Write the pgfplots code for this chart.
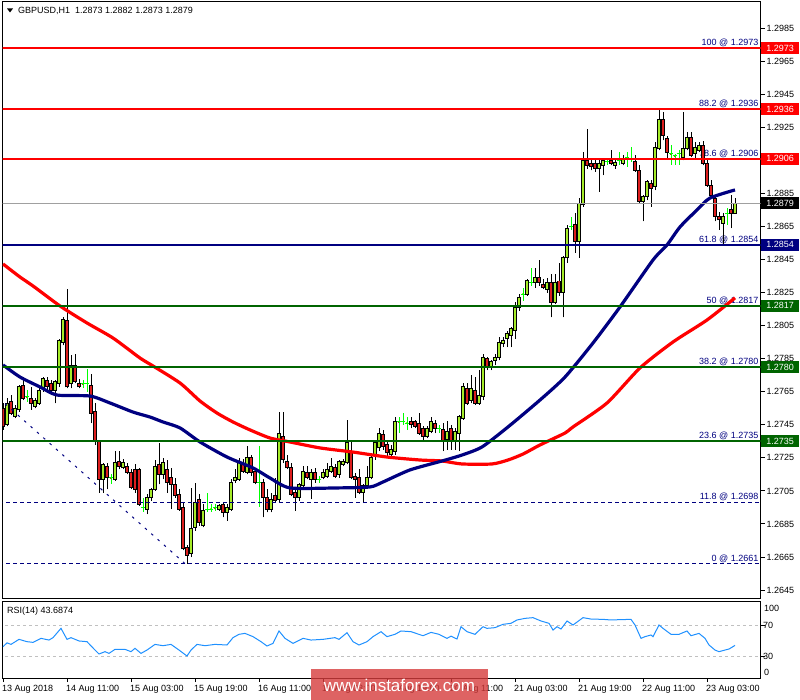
\documentclass[border=0pt]{standalone}
\usepackage{pgfplots}
\pgfplotsset{compat=1.18}
\usepackage{pgfplotstable}
\usepackage{fontspec}
\setmainfont{Liberation Sans}

\definecolor{mtred}{RGB}{255,0,0}
\definecolor{mtnavy}{RGB}{0,0,128}
\definecolor{mtgreen}{RGB}{0,100,0}
\definecolor{bull}{RGB}{165,235,40}
\definecolor{bear}{RGB}{220,30,30}
\definecolor{doji}{RGB}{0,255,0}
\definecolor{rsiblue}{RGB}{30,144,255}
\definecolor{levelgray}{RGB}{160,160,160}
\definecolor{rsigray}{RGB}{192,192,192}
\definecolor{wmred}{RGB}{214,60,60}
\newcommand{\fs}{\fontsize{9}{10}\selectfont}
% error-bar-only plots: no visible marker
\pgfplotsset{bar only/.style={only marks, mark=*, mark size=0pt, mark options={draw=none, fill=none}}}

% GBPUSD H1 candles: bar index, open, high, low, close
\pgfplotstableread{
i o h l c
0 1.2755 1.2758 1.2742 1.2744
1 1.2745 1.2761 1.2744 1.2758
2 1.2759 1.2763 1.2751 1.2752
3 1.2750 1.2757 1.2749 1.2755
4 1.2754 1.2769 1.2753 1.2768
5 1.2769 1.2774 1.2760 1.2761
6 1.2762 1.2766 1.2759 1.2761
7 1.2761 1.2768 1.2754 1.2758
8 1.2756 1.2761 1.2755 1.2760
9 1.2758 1.2768 1.2757 1.2766
10 1.2767 1.2774 1.2765 1.2773
11 1.2772 1.2774 1.2766 1.2768
12 1.2770 1.2772 1.2765 1.2766
13 1.2766 1.2772 1.2758 1.2771
14 1.2770 1.2797 1.2768 1.2796
15 1.2795 1.2810 1.2793 1.2809
16 1.2808 1.2827 1.2767 1.2768
17 1.2770 1.2787 1.2767 1.2781
18 1.2781 1.2788 1.2770 1.2771
19 1.2770 1.2773 1.2767 1.2768
20 1.2770 1.2772 1.2767 1.2769
21 1.2770 1.2779 1.2765 1.2770
22 1.2769 1.2776 1.2746 1.2752
23 1.2753 1.2758 1.2733 1.2735
24 1.2735 1.2736 1.2704 1.2712
25 1.2712 1.2722 1.2704 1.2721
26 1.2720 1.2722 1.2706 1.2713
27 1.2713 1.2715 1.2709 1.2712
28 1.2712 1.2729 1.2711 1.2722
29 1.2723 1.2729 1.2718 1.2720
30 1.2719 1.2724 1.2718 1.2722
31 1.2720 1.2722 1.2715 1.2716
32 1.2716 1.2718 1.2706 1.2707
33 1.2718 1.2721 1.2704 1.2706
34 1.2718 1.2719 1.2696 1.2697
35 1.2695 1.2701 1.2692 1.2695
36 1.2694 1.2703 1.2691 1.2701
37 1.2701 1.2707 1.2699 1.2706
38 1.2706 1.2724 1.2705 1.2720
39 1.2721 1.2734 1.2709 1.2715
40 1.2715 1.2725 1.2712 1.2722
41 1.2718 1.2724 1.2704 1.2710
42 1.2713 1.2719 1.2694 1.2709
43 1.2709 1.2713 1.2701 1.2702
44 1.2703 1.2706 1.2693 1.2694
45 1.2695 1.2698 1.2669 1.2670
46 1.2671 1.2672 1.2661 1.2666
47 1.2667 1.2707 1.2665 1.2682
48 1.2683 1.2710 1.2681 1.2698
49 1.2700 1.2703 1.2684 1.2686
50 1.2684 1.2697 1.2683 1.2693
51 1.2694 1.2704 1.2692 1.2694
52 1.2694 1.2697 1.2692 1.2695
53 1.2695 1.2697 1.2693 1.2694
54 1.2694 1.2697 1.2693 1.2696
55 1.2697 1.2698 1.2689 1.2692
56 1.2692 1.2697 1.2687 1.2695
57 1.2694 1.2712 1.2693 1.2710
58 1.2711 1.2718 1.2710 1.2713
59 1.2712 1.2725 1.2711 1.2722
60 1.2721 1.2724 1.2716 1.2717
61 1.2716 1.2732 1.2715 1.2725
62 1.2725 1.2727 1.2714 1.2716
63 1.2717 1.2719 1.2709 1.2710
64 1.2710 1.2732 1.2695 1.2710
65 1.2710 1.2712 1.2689 1.2701
66 1.2701 1.2706 1.2692 1.2694
67 1.2694 1.2704 1.2692 1.2700
68 1.2702 1.2713 1.2698 1.2699
69 1.2700 1.2753 1.2698 1.2740
70 1.2738 1.2753 1.2722 1.2724
71 1.2723 1.2727 1.2718 1.2719
72 1.2719 1.2722 1.2702 1.2703
73 1.2704 1.2706 1.2693 1.2701
74 1.2701 1.2710 1.2699 1.2709
75 1.2708 1.2720 1.2707 1.2717
76 1.2716 1.2720 1.2712 1.2713
77 1.2712 1.2718 1.2700 1.2716
78 1.2716 1.2719 1.2710 1.2712
79 1.2712 1.2714 1.2710 1.2712
80 1.2713 1.2718 1.2712 1.2716
81 1.2714 1.2722 1.2713 1.2718
82 1.2717 1.2725 1.2716 1.2720
83 1.2719 1.2721 1.2713 1.2714
84 1.2715 1.2724 1.2713 1.2723
85 1.2721 1.2724 1.2720 1.2723
86 1.2722 1.2748 1.2721 1.2734
87 1.2728 1.2736 1.2712 1.2713
88 1.2714 1.2716 1.2701 1.2712
89 1.2713 1.2718 1.2703 1.2704
90 1.2704 1.2709 1.2698 1.2708
91 1.2708 1.2720 1.2707 1.2713
92 1.2713 1.2726 1.2712 1.2725
93 1.2727 1.2736 1.2724 1.2734
94 1.2731 1.2743 1.2729 1.2740
95 1.2739 1.2742 1.2730 1.2732
96 1.2733 1.2736 1.2725 1.2728
97 1.2727 1.2733 1.2725 1.2730
98 1.2729 1.2750 1.2727 1.2747
99 1.2747 1.2750 1.2740 1.2746
100 1.2747 1.2752 1.2745 1.2747
101 1.2746 1.2750 1.2742 1.2747
102 1.2747 1.2750 1.2743 1.2745
103 1.2747 1.2748 1.2743 1.2744
104 1.2746 1.2752 1.2739 1.2740
105 1.2743 1.2744 1.2736 1.2738
106 1.2738 1.2744 1.2737 1.2743
107 1.2741 1.2750 1.2740 1.2747
108 1.2746 1.2748 1.2740 1.2743
109 1.2743 1.2745 1.2740 1.2743
110 1.2742 1.2746 1.2729 1.2735
111 1.2736 1.2747 1.2730 1.2741
112 1.2743 1.2745 1.2730 1.2735
113 1.2735 1.2743 1.2730 1.2741
114 1.2740 1.2751 1.2729 1.2750
115 1.2749 1.2770 1.2748 1.2768
116 1.2767 1.2770 1.2757 1.2758
117 1.2760 1.2775 1.2758 1.2767
118 1.2766 1.2774 1.2757 1.2758
119 1.2758 1.2778 1.2757 1.2763
120 1.2762 1.2788 1.2760 1.2786
121 1.2785 1.2786 1.2778 1.2780
122 1.2780 1.2784 1.2778 1.2783
123 1.2784 1.2788 1.2781 1.2786
124 1.2786 1.2798 1.2784 1.2795
125 1.2794 1.2798 1.2792 1.2796
126 1.2797 1.2802 1.2792 1.2800
127 1.2799 1.2804 1.2792 1.2803
128 1.2802 1.2819 1.2797 1.2816
129 1.2816 1.2824 1.2814 1.2822
130 1.2824 1.2828 1.2820 1.2825
131 1.2824 1.2833 1.2823 1.2832
132 1.2831 1.2840 1.2829 1.2832
133 1.2831 1.2840 1.2828 1.2834
134 1.2834 1.2845 1.2829 1.2831
135 1.2830 1.2833 1.2827 1.2828
136 1.2827 1.2834 1.2825 1.2831
137 1.2831 1.2836 1.2810 1.2819
138 1.2819 1.2836 1.2818 1.2831
139 1.2832 1.2843 1.2823 1.2825
140 1.2825 1.2847 1.2810 1.2846
141 1.2846 1.2866 1.2843 1.2864
142 1.2865 1.2871 1.2863 1.2865
143 1.2866 1.2873 1.2849 1.2856
144 1.2856 1.2882 1.2846 1.2879
145 1.2878 1.2910 1.2877 1.2905
146 1.2905 1.2924 1.2900 1.2902
147 1.2903 1.2905 1.2899 1.2901
148 1.2903 1.2905 1.2898 1.2900
149 1.2900 1.2905 1.2886 1.2903
150 1.2902 1.2906 1.2896 1.2905
151 1.2904 1.2906 1.2902 1.2905
152 1.2905 1.2911 1.2902 1.2903
153 1.2902 1.2905 1.2900 1.2904
154 1.2905 1.2910 1.2902 1.2905
155 1.2903 1.2908 1.2902 1.2906
156 1.2907 1.2910 1.2901 1.2906
157 1.2906 1.2913 1.2904 1.2906
158 1.2904 1.2908 1.2898 1.2899
159 1.2899 1.2902 1.2879 1.2880
160 1.2880 1.2884 1.2868 1.2883
161 1.2883 1.2893 1.2881 1.2892
162 1.2891 1.2893 1.2877 1.2888
163 1.2889 1.2916 1.2887 1.2913
164 1.2912 1.2936 1.2911 1.2930
165 1.2930 1.2934 1.2917 1.2920
166 1.2918 1.2920 1.2906 1.2910
167 1.2909 1.2914 1.2902 1.2908
168 1.2908 1.2909 1.2902 1.2907
169 1.2909 1.2911 1.2902 1.2909
170 1.2907 1.2934 1.2905 1.2912
171 1.2912 1.2922 1.2911 1.2919
172 1.2919 1.2922 1.2907 1.2908
173 1.2909 1.2916 1.2906 1.2913
174 1.2911 1.2916 1.2910 1.2914
175 1.2914 1.2917 1.2902 1.2903
176 1.2903 1.2905 1.2889 1.2890
177 1.2890 1.2893 1.2883 1.2884
178 1.2882 1.2884 1.2868 1.2871
179 1.2871 1.2874 1.2863 1.2869
180 1.2867 1.2873 1.2854 1.2871
181 1.2873 1.2876 1.2866 1.2873
182 1.2875 1.2884 1.2864 1.2873
183 1.2873 1.2882 1.2873 1.2879
}\candles

% slow moving average (red)
\pgfplotstableread{
i v
0 1.28423
4.25 1.28344
7.5 1.28290
14.25 1.28169
21 1.28066
27.5 1.27975
34.25 1.27854
37.5 1.27806
44.25 1.27703
49.25 1.27594
53.5 1.27521
57.5 1.27467
61.75 1.27419
66.75 1.27370
71.75 1.27346
79.25 1.27310
87.5 1.27285
96 1.27255
104.25 1.27237
109.75 1.27231
114.75 1.27213
122.25 1.27213
126.25 1.27237
130 1.27273
134.25 1.27328
140.5 1.27400
142.5 1.27437
151 1.27582
159.25 1.27794
167.5 1.27951
176 1.28084
183 1.28218
}\maslow

% fast moving average (navy)
\pgfplotstableread{
i v
0 1.27812
4.25 1.27739
9.25 1.27679
13.5 1.27630
21.75 1.27624
26.75 1.27582
32.5 1.27527
36.75 1.27497
40 1.27467
44.25 1.27431
49.25 1.27346
56 1.27255
62.5 1.27189
66.75 1.27128
71.75 1.27068
83.5 1.27068
91.75 1.27074
95 1.27104
101.75 1.27177
109.75 1.27231
114.75 1.27267
119.75 1.27316
126.25 1.27437
134.25 1.27600
140.5 1.27739
147.5 1.27945
154.25 1.28163
162.5 1.28447
166 1.28538
169.25 1.28647
173.5 1.28750
176.75 1.28822
183 1.28871
}\mafast

% RSI(14)
\pgfplotstableread{
i v
0 42
1 47
2 45
4 51.5
6 48.5
7.5 47.6
9.5 52.8
11.5 50.6
12.5 53.7
14.5 65.7
16 51.5
17 53.7
19 49.4
21 48.5
23 37.7
24 32.6
25.5 35.6
26.5 33.4
28 38.6
30.5 38.6
32 35.6
33 39.9
34.5 33.4
36 37.7
38 45
40 43.3
42 45
44 37.7
46 30
47 37.7
48.5 45
50.5 43.3
53 45
56 44.2
57.5 53.7
59 58
60.5 59.2
62.5 55
64.5 48.5
66 42.9
67.5 46.3
69 62.3
70.5 52.8
72.5 46.3
75 52.8
77 50.6
80 51.5
83 53.7
84 51.5
86 60.1
87.5 48.5
89 44.2
91 48.5
92.5 55
94.5 61.4
96 55
98 58
99.5 62.3
102 61.4
105 56.2
107 60.5
109 58
111 52.8
112 55.6
113.5 51.9
114.5 67.8
116 61.4
118 58
120 67.8
121 65.7
123 66.6
125 70.9
127 72.2
128.5 76.5
130.5 78.6
132.5 79.5
134.5 75.2
136.5 72.2
137.5 63.5
138.5 67.8
139.5 64.8
141 75.2
142.5 70
145 79.5
147 77.7
150 77.3
152 76.5
154 76.9
157 77.3
158 70
159.5 52.8
160.5 55
162 57.1
162.5 55
164 70
165 65.7
167 58
169 58
171 62.3
172 56.2
174 59.2
175.5 52.8
176.5 44.2
178 37.7
179 35.6
180.5 37.7
181.5 39
183 43.6874
}\rsi

\begin{document}
\begin{tikzpicture}[x=1pt,y=1pt]

% ---------------- price panel (vertical unit: 0.0001) ----------------
\begin{axis}[
  at={(2.5pt,-2pt)}, anchor=north west,
  width=758pt, height=596.5pt, scale only axis,
  xmin=-0.125, xmax=189.375, ymin=12639.9, ymax=13000.8,
  set layers, clip mode=individual,
  axis line style={line width=1pt},
  xtick=\empty,
  ytick={12645,12665,12685,12705,12725,12745,12765,12785,12805,12825,12845,12865,12885,12905,12925,12945,12965,12985},
  yticklabels={1.2645,1.2665,1.2685,1.2705,1.2725,1.2745,1.2765,1.2785,1.2805,1.2825,1.2845,1.2865,1.2885,1.2905,1.2925,1.2945,1.2965,1.2985},
  ytick pos=right, yticklabel pos=right, tick align=outside,
  major tick length=4pt, tick style={black, line width=1pt},
  tick label style={font=\fs},
  yticklabel style={inner sep=0pt, xshift=2pt},
]
% level captions
\begin{scope}[font=\fs, text=mtnavy, inner sep=0pt, anchor=base east]
\node at (axis cs:188.875,12973) [yshift=2.5pt] {100 @ 1.2973};
\node at (axis cs:188.875,12936) [yshift=2.5pt] {88.2 @ 1.2936};
\node at (axis cs:188.875,12906) [yshift=2.5pt] {78.6 @ 1.2906};
\node at (axis cs:188.875,12854) [yshift=2.5pt] {61.8 @ 1.2854};
\node at (axis cs:188.875,12817) [yshift=2.5pt] {50 @ 1.2817};
\node at (axis cs:188.875,12780) [yshift=2.5pt] {38.2 @ 1.2780};
\node at (axis cs:188.875,12735) [yshift=2.5pt] {23.6 @ 1.2735};
\node at (axis cs:188.875,12698) [yshift=2.5pt] {11.8 @ 1.2698};
\node at (axis cs:188.875,12661) [yshift=2.5pt] {0 @ 1.2661};
\end{scope}

% wicks
\addplot[black, bar only,
  error bars/.cd, y dir=plus, y explicit, error mark=none,
  error bar style={black, line width=1pt}]
  table[x=i, y expr={\thisrow{o}==\thisrow{c} ? nan : \thisrow{l}*10000},
        y error expr={(\thisrow{h}-\thisrow{l})*10000}] {\candles};
% body outlines
\addplot[black, bar only,
  error bars/.cd, y dir=plus, y explicit, error mark=none,
  error bar style={black, line width=3.3pt}]
  table[x=i, y expr={\thisrow{o}==\thisrow{c} ? nan : min(\thisrow{o},\thisrow{c})*10000-0.3},
        y error expr={abs(\thisrow{c}-\thisrow{o})*10000+0.6}] {\candles};
% bullish bodies
\addplot[bull, bar only,
  error bars/.cd, y dir=plus, y explicit, error mark=none,
  error bar style={bull, line width=1.5pt}]
  table[x=i, y expr={\thisrow{c}>\thisrow{o} ? \thisrow{o}*10000+0.3 : nan},
        y error expr={max((\thisrow{c}-\thisrow{o})*10000-0.6,0)}] {\candles};
% bearish bodies
\addplot[bear, bar only,
  error bars/.cd, y dir=plus, y explicit, error mark=none,
  error bar style={bear, line width=1.5pt}]
  table[x=i, y expr={\thisrow{c}<\thisrow{o} ? \thisrow{c}*10000+0.3 : nan},
        y error expr={max((\thisrow{o}-\thisrow{c})*10000-0.6,0)}] {\candles};
% doji crosses
\addplot[doji, only marks, mark=-, mark size=1.7pt, mark options={line width=1pt},
  error bars/.cd, y dir=both, y explicit, error mark=none,
  error bar style={doji, line width=1pt}]
  table[x=i, y expr={\thisrow{o}==\thisrow{c} ? \thisrow{o}*10000 : nan},
        y error plus expr={(\thisrow{h}-\thisrow{o})*10000},
        y error minus expr={(\thisrow{o}-\thisrow{l})*10000}] {\candles};

% moving averages
\addplot[mtred, line width=3.2pt, smooth, tension=0.4] table[x=i, y expr=\thisrow{v}*10000] {\maslow};
\addplot[mtnavy, line width=3.2pt, smooth, tension=0.4] table[x=i, y expr=\thisrow{v}*10000] {\mafast};

% Fibonacci levels
\addplot[mtred, line width=2pt] coordinates {(-1,12973) (190,12973)};
\addplot[mtred, line width=2pt] coordinates {(-1,12936) (190,12936)};
\addplot[mtred, line width=2pt] coordinates {(-1,12906) (190,12906)};
\addplot[mtnavy, line width=2pt] coordinates {(-1,12854) (190,12854)};
\addplot[mtgreen, line width=2pt] coordinates {(-1,12817) (190,12817)};
\addplot[mtgreen, line width=2pt] coordinates {(-1,12780) (190,12780)};
\addplot[mtgreen, line width=2pt] coordinates {(-1,12735) (190,12735)};
\addplot[mtnavy, line width=1pt, dash pattern=on 4pt off 3pt] coordinates {(-1,12698) (190,12698)};
\addplot[mtnavy, line width=1pt, dash pattern=on 4pt off 3pt] coordinates {(-1,12661) (190,12661)};
\addplot[mtnavy, line width=1pt, dash pattern=on 2.5pt off 6pt] coordinates {(-99.5,12973) (45.5,12661)};
% last price
\addplot[levelgray, line width=1pt] coordinates {(-1,12879) (190,12879)};

% price tags on the scale
\begin{scope}[font=\fs, text=white, inner sep=0pt, minimum width=38pt, minimum height=12pt, anchor=west]
\node[fill=mtred] at (axis cs:189.375,12973) [xshift=0.5pt] {1.2973};
\node[fill=mtred] at (axis cs:189.375,12936) [xshift=0.5pt] {1.2936};
\node[fill=mtred] at (axis cs:189.375,12906) [xshift=0.5pt] {1.2906};
\node[fill=black] at (axis cs:189.375,12879) [xshift=0.5pt] {1.2879};
\node[fill=mtnavy] at (axis cs:189.375,12854) [xshift=0.5pt] {1.2854};
\node[fill=mtgreen] at (axis cs:189.375,12817) [xshift=0.5pt] {1.2817};
\node[fill=mtgreen] at (axis cs:189.375,12780) [xshift=0.5pt] {1.2780};
\node[fill=mtgreen] at (axis cs:189.375,12735) [xshift=0.5pt] {1.2735};
\end{scope}
\end{axis}

% ---------------- RSI panel ----------------
\begin{axis}[
  at={(2.5pt,-601pt)}, anchor=north west,
  width=758pt, height=77pt, scale only axis,
  xmin=-0.125, xmax=189.375, ymin=1.6, ymax=101,
  clip mode=individual,
  axis line style={line width=1pt},
  ytick={30,70}, yticklabels={30,70},
  ytick pos=right, yticklabel pos=right,
  xtick={0,16,32,48,64,80,96,112,128,144,160,176},
  xticklabels={13 Aug 2018,14 Aug 11:00,15 Aug 03:00,15 Aug 19:00,16 Aug 11:00,17 Aug 03:00,17 Aug 19:00,20 Aug 11:00,21 Aug 03:00,21 Aug 19:00,22 Aug 11:00,23 Aug 03:00},
  xtick pos=bottom, tick align=outside,
  major tick length=4pt, tick style={black, line width=1pt},
  tick label style={font=\fs},
  xticklabel style={anchor=north west, inner sep=0pt, xshift=-1pt, yshift=-3.5pt},
  yticklabel style={inner sep=0pt, xshift=-1.5pt},
]
\addplot[rsigray, line width=1pt, dash pattern=on 3pt off 3pt] coordinates {(-1,70) (190,70)};
\addplot[rsigray, line width=1pt, dash pattern=on 3pt off 3pt] coordinates {(-1,30) (190,30)};
\addplot[rsiblue, line width=1pt] table[x=i, y=v] {\rsi};
\node[font=\fs, inner sep=0pt, anchor=west] at (axis cs:189.375,92) [xshift=3.5pt] {100};
\node[font=\fs, inner sep=0pt, anchor=west] at (axis cs:189.375,9.3) [xshift=3.5pt] {0};
\end{axis}

% headers
\fill (7,-8.5) -- (13,-8.5) -- (10,-12.5) -- cycle;
\node[font=\fs, inner sep=0pt, anchor=west] at (18,-11) {GBPUSD,H1\ \ 1.2873 1.2882 1.2873 1.2879};
\node[font=\fs, inner sep=0pt, anchor=west] at (7,-611) {RSI(14) 43.6874};

% site mark
\fill[wmred, opacity=0.8] (311,-669) rectangle (488,-700);
\node[text=white, inner sep=0pt, font=\fontsize{17}{19}\selectfont] at (399.5,-685) {www.instaforex.com};

% page frame
\pgfresetboundingbox
\path[use as bounding box] (0,0) rectangle (800,-700);
\end{tikzpicture}
\end{document}
